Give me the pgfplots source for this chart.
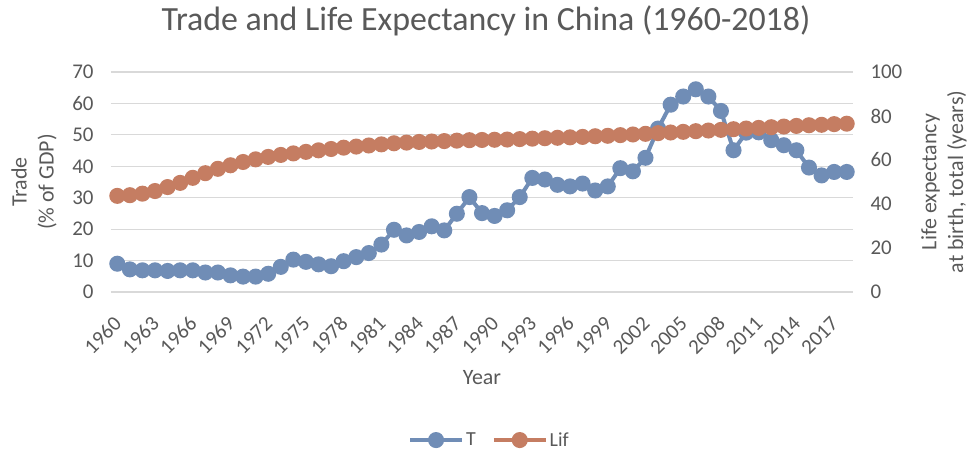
\documentclass[border=0pt]{standalone}
\usepackage{fontspec}
\setmainfont{Carlito}
\usepackage{pgfplots}
\usepackage{pgfplotstable}
\pgfplotsset{compat=1.18}
\definecolor{tblue}{RGB}{112,141,182}
\definecolor{torange}{RGB}{197,125,98}
\definecolor{txt}{RGB}{89,89,89}
\definecolor{grd}{RGB}{217,217,217}

\pgfplotstableread{
year T L
1960 9.0 43.7
1961 7.2 44.0
1962 6.9 44.7
1963 6.9 45.9
1964 6.7 47.7
1965 6.9 49.6
1966 6.9 51.9
1967 6.2 54.0
1968 6.2 56.0
1969 5.3 57.6
1970 4.9 59.1
1971 4.9 60.3
1972 5.8 61.4
1973 8.0 62.3
1974 10.3 63.0
1975 9.6 63.7
1976 8.8 64.4
1977 8.2 65.0
1978 9.8 65.6
1979 11.1 66.1
1980 12.4 66.6
1981 15.1 67.1
1982 19.8 67.6
1983 18.0 67.9
1984 19.1 68.2
1985 20.9 68.4
1986 19.6 68.6
1987 24.9 68.8
1988 30.2 69.0
1989 25.1 69.1
1990 24.2 69.2
1991 26.0 69.3
1992 30.2 69.5
1993 36.3 69.7
1994 35.8 69.9
1995 34.1 70.1
1996 33.6 70.3
1997 34.5 70.5
1998 32.3 70.8
1999 33.6 71.0
2000 39.4 71.3
2001 38.4 71.6
2002 42.7 71.9
2003 52.0 72.2
2004 59.6 72.5
2005 62.2 72.8
2006 64.5 73.1
2007 62.2 73.4
2008 57.6 73.7
2009 45.1 74.0
2010 50.7 74.3
2011 50.8 74.6
2012 48.3 74.9
2013 46.7 75.2
2014 45.1 75.5
2015 39.6 75.8
2016 37.1 76.0
2017 38.2 76.3
2018 38.2 76.5
}\data

\pgfplotsset{
  common/.style={
    scale only axis, width=742bp, height=220bp,
    xmin=1959.5, xmax=2018.5, ymin=0,
    axis line style={draw=none}, major tick length=0pt,
    /pgf/number format/assume math mode=true,
    /pgf/number format/1000 sep={},
    ticklabel style={font=\fontsize{21}{24}\selectfont, text=txt},
    legend image code/.code={\draw[mark repeat=2,mark phase=2,##1] plot coordinates {(0bp,0bp) (26bp,0bp) (52bp,0bp)};},
  }
}

\begin{document}
\begin{tikzpicture}
\path[use as bounding box, fill=white] (-111bp,-161bp) rectangle (858bp,292bp);
\begin{axis}[common,
  ymax=70, ytick={0,10,...,70},
  xtick={1960,1963,...,2017},
  ymajorgrids, grid style={grd, line width=1.2bp},
  yticklabel style={xshift=-14bp},
  xticklabel style={xshift=3bp, yshift=-26bp, rotate=45, anchor=east},
  title={Trade and Life Expectancy in China (1960-2018)},
  title style={font=\fontsize{34}{38}\selectfont, text=txt, at={(axis description cs:0.5055,1.205)}, anchor=center},
  xlabel={Year},
  xlabel style={font=\fontsize{22}{26}\selectfont, text=txt, at={(axis description cs:0.5,-0.39)}, anchor=center},
  ylabel={Trade\\(\% of GDP)},
  ylabel style={font=\fontsize{22}{27}\selectfont, text=txt, align=center, at={(axis description cs:-0.1038,0.5)}, anchor=center},
  legend style={at={(axis description cs:0.51,-0.673)}, anchor=center, draw=none, fill=none, legend columns=2, font=\fontsize{20}{22}\selectfont, text=txt, /tikz/every even column/.append style={column sep=14bp}},
]
\addplot[tblue, line width=4bp, mark=*, mark size=6bp, mark options={solid, fill=tblue, draw=tblue}] table[x=year, y=T] {\data};
\addlegendentry{T}
\addlegendimage{torange, line width=4bp, mark=*, mark size=6bp, mark options={solid, fill=torange, draw=torange}}
\addlegendentry{Lif}
\end{axis}
\begin{axis}[common,
  ymax=100, ytick={0,20,...,100},
  axis y line*=right, axis x line=none,
  yticklabel style={xshift=14bp},
  ylabel={Life expectancy\\at birth, total (years)},
  ylabel style={font=\fontsize{22}{27}\selectfont, text=txt, align=center, at={(axis description cs:1.1226,0.5)}, anchor=center, rotate=0},
]
\addplot[torange, line width=4bp, mark=*, mark size=6bp, mark options={solid, fill=torange, draw=torange}] table[x=year, y=L] {\data};
\end{axis}
\end{tikzpicture}
\end{document}
